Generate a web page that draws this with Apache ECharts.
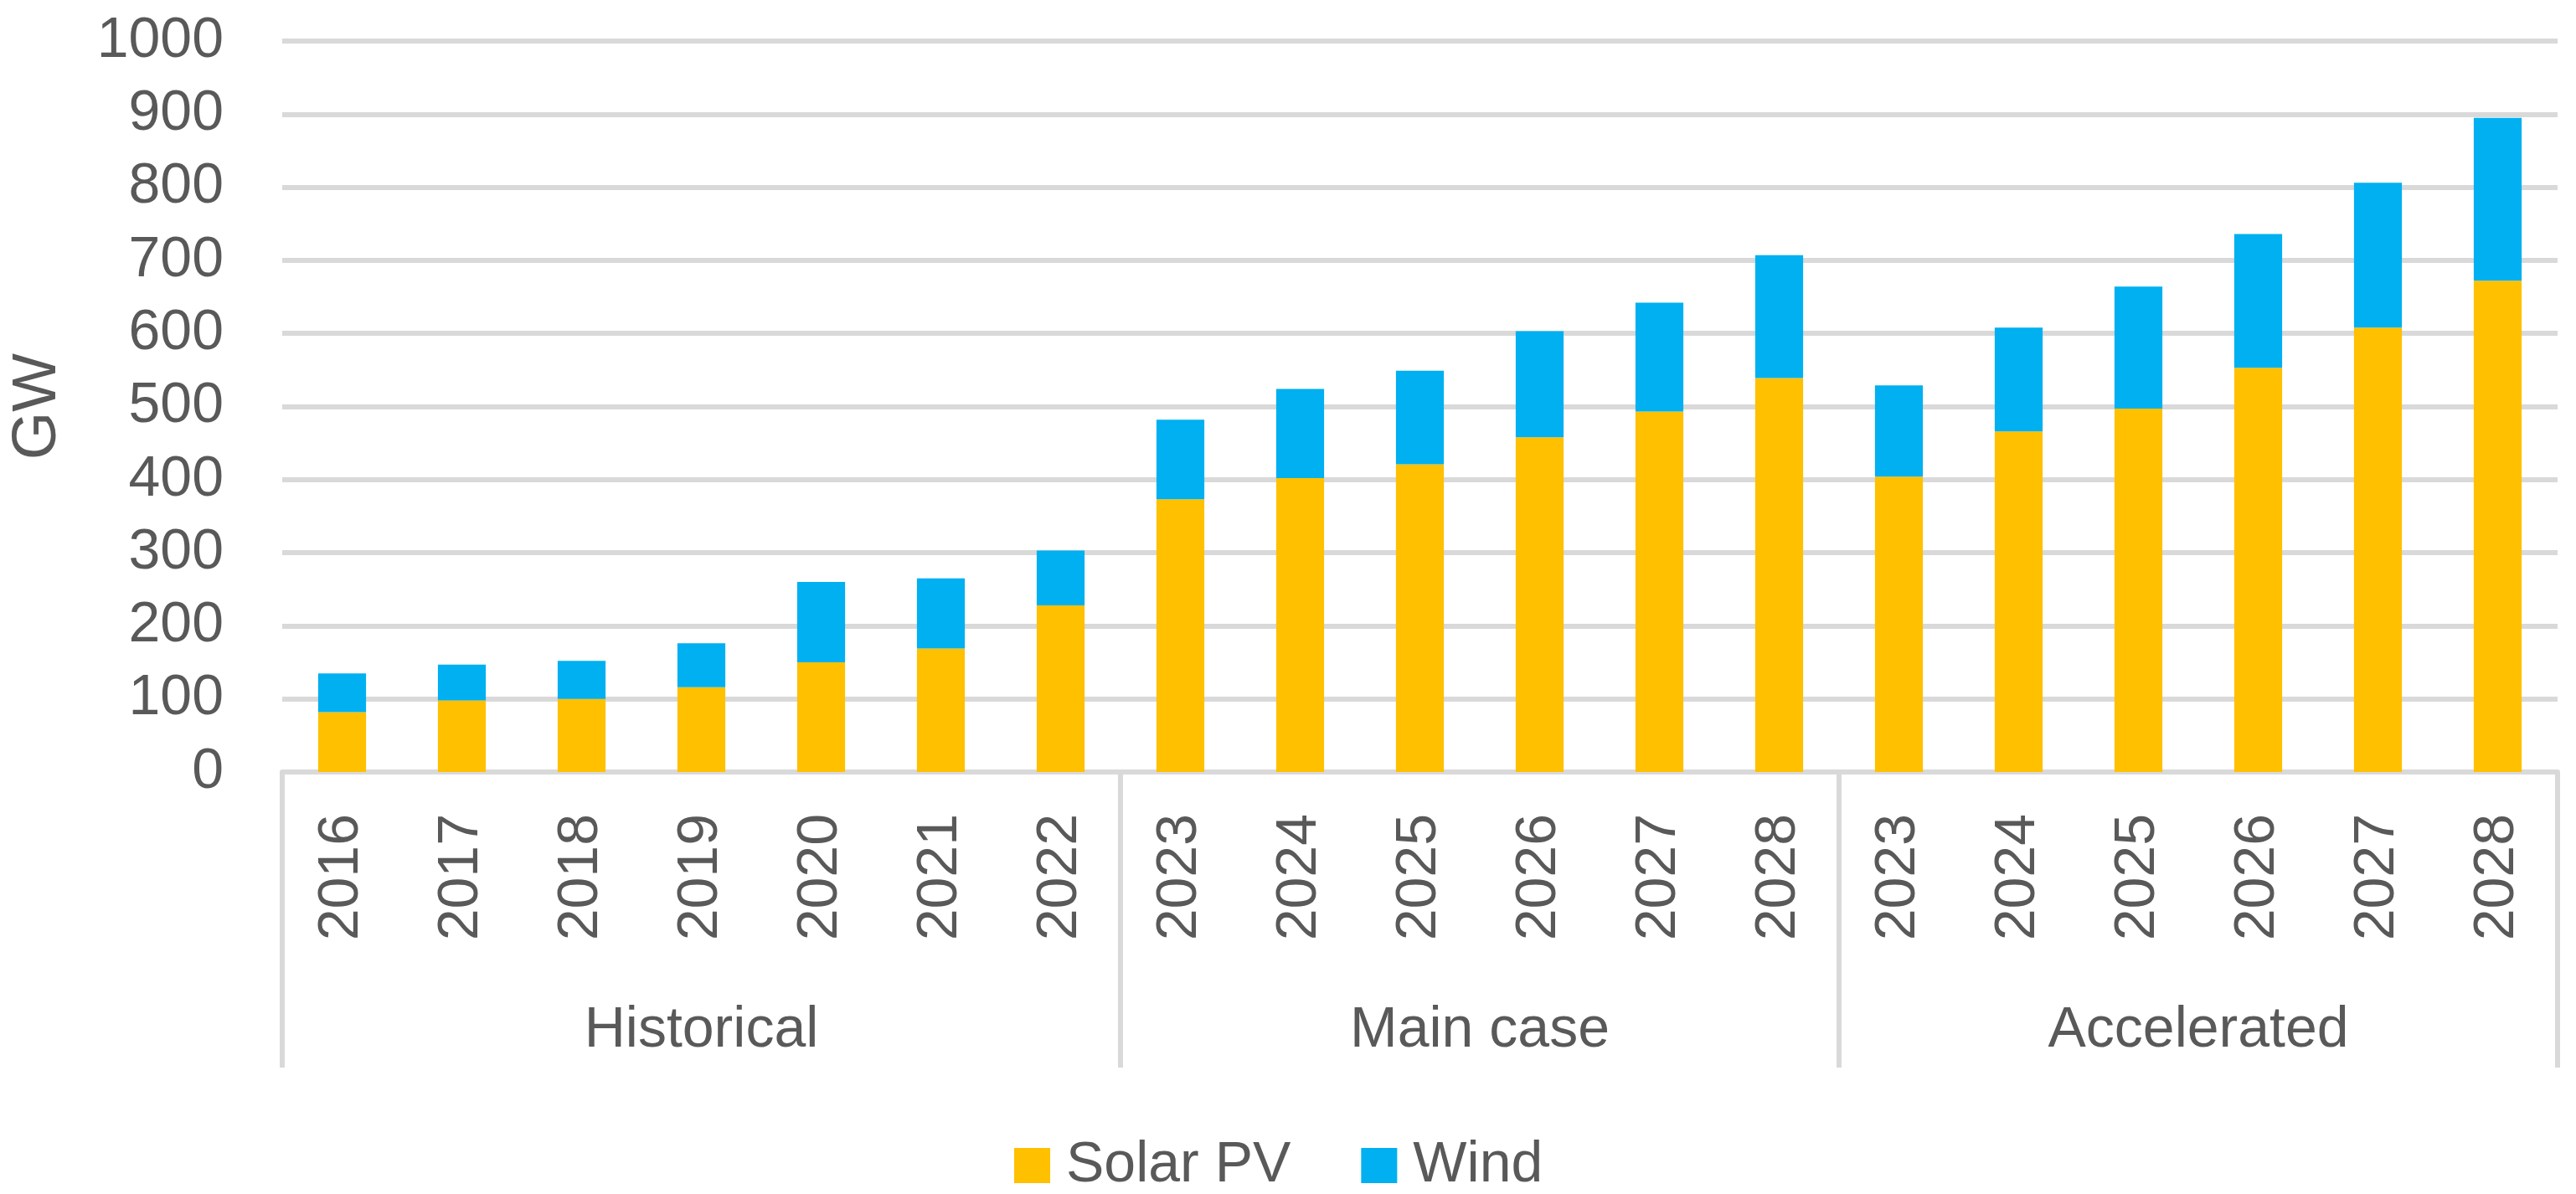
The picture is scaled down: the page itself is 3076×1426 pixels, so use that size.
<!DOCTYPE html>
<html>
<head>
<meta charset="utf-8">
<script src="https://cdn.jsdelivr.net/npm/echarts@6/dist/echarts.min.js"></script>
<style>
  html, body { margin: 0; padding: 0; background: #ffffff; }
  #chart { width: 3076px; height: 1426px; }
</style>
</head>
<body>
<div id="chart"></div>
<script>
// ---- Data ----
const groups = ['Historical', 'Main case', 'Accelerated'];
const historicalYears = ['2016', '2017', '2018', '2019', '2020', '2021', '2022'];
const mainCaseYears = ['2023', '2024', '2025', '2026', '2027', '2028'];
const acceleratedYears = ['2023', '2024', '2025', '2026', '2027', '2028'];
const solarPV = [82, 98, 100, 116, 150, 169, 228, 373, 402, 421, 458, 493, 539, 404, 466, 497, 553, 608, 672];
const wind = [53, 49, 52, 60, 110, 96, 75, 109, 122, 128, 145, 149, 168, 125, 142, 167, 183, 198, 223];
const yTicks = [0, 100, 200, 300, 400, 500, 600, 700, 800, 900, 1000];

// ---- Build category keys and group boundaries ----
const groupYears = [historicalYears, mainCaseYears, acceleratedYears];
const categories = [];
groupYears.forEach((ys, gi) => ys.forEach(y => categories.push(gi + '|' + y)));
const bounds = [0];
groupYears.forEach(ys => bounds.push(bounds[bounds.length - 1] + ys.length));
const groupCenters = groups.map((g, i) => (bounds[i] + bounds[i + 1]) / 2);
const total = bounds[bounds.length - 1];

const FONT = 'Liberation Sans';
const TXT = '#595959';
const GRID = '#D9D9D9';

const chart = echarts.init(document.getElementById('chart'), null, { renderer: 'canvas' });
chart.setOption({
  backgroundColor: '#ffffff',
  animation: false,
  textStyle: { fontFamily: FONT },
  grid: { left: 337, right: 22, top: 49, bottom: 504, containLabel: false, outerBoundsMode: 'none' },
  legend: {
    data: ['Solar PV', 'Wind'],
    left: 1206,
    top: 1353,
    icon: 'rect',
    itemWidth: 43,
    itemHeight: 42,
    itemGap: 84,
    textStyle: { fontSize: 68, color: TXT, fontFamily: FONT, padding: [0, 0, 0, 14] }
  },
  xAxis: [
    {
      type: 'category',
      data: categories,
      position: 'bottom',
      axisLine: { show: true, lineStyle: { color: GRID, width: 6 } },
      axisTick: { show: false },
      splitLine: { show: false },
      axisLabel: {
        rotate: 90,
        interval: 0,
        margin: 50,
        fontSize: 68,
        color: TXT,
        fontFamily: FONT,
        formatter: v => v.split('|')[1]
      }
    },
    {
      type: 'value',
      min: 0,
      max: total,
      position: 'bottom',
      axisLine: { show: false },
      splitLine: { show: false },
      axisTick: {
        show: true,
        inside: false,
        length: 353,
        customValues: bounds,
        lineStyle: { color: GRID, width: 6 }
      },
      axisLabel: {
        show: true,
        margin: 275,
        fontSize: 68,
        color: TXT,
        fontFamily: FONT,
        customValues: groupCenters,
        formatter: v => {
          const i = groupCenters.findIndex(c => Math.abs(c - v) < 1e-6);
          return i >= 0 ? groups[i] : '';
        }
      }
    }
  ],
  yAxis: {
    type: 'value',
    min: yTicks[0],
    max: yTicks[yTicks.length - 1],
    interval: yTicks[1] - yTicks[0],
    name: 'GW',
    nameLocation: 'middle',
    nameGap: 254,
    nameTextStyle: { fontSize: 74, color: TXT, fontFamily: FONT },
    axisLine: { show: false },
    axisTick: { show: false },
    splitLine: { show: true, lineStyle: { color: GRID, width: 6 } },
    axisLabel: { fontSize: 68, color: TXT, fontFamily: FONT, margin: 70, formatter: v => String(v) }
  },
  series: [
    {
      name: 'Solar PV',
      type: 'bar',
      stack: 'total',
      xAxisIndex: 0,
      barWidth: '40%',
      itemStyle: { color: '#FFC000' },
      data: solarPV
    },
    {
      name: 'Wind',
      type: 'bar',
      stack: 'total',
      xAxisIndex: 0,
      barWidth: '40%',
      itemStyle: { color: '#00B0F0' },
      data: wind
    }
  ]
});
</script>
</body>
</html>
